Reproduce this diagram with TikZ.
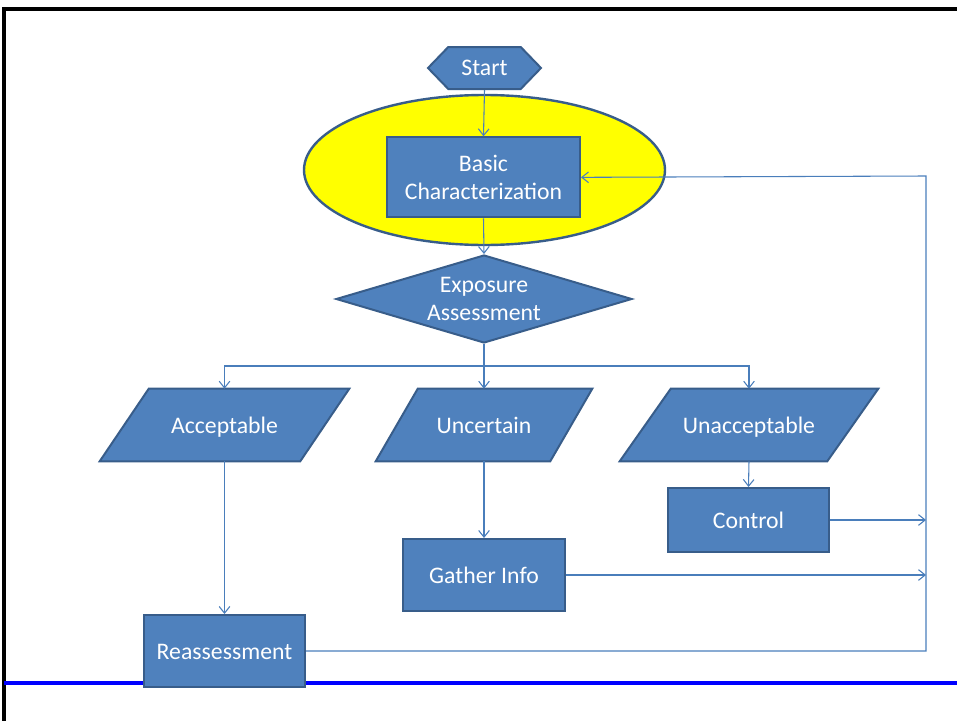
\documentclass[tikz,border=0pt]{standalone}
\usepackage{fontspec}
\setmainfont{Carlito}
\usetikzlibrary{shapes.geometric,shapes.symbols,arrows.meta,backgrounds}
\definecolor{boxfill}{HTML}{4F81BD}
\definecolor{boxline}{HTML}{385D8A}
\definecolor{conn}{HTML}{4A7EBB}
\definecolor{ellfill}{HTML}{FFFF00}
\tikzset{
  txt/.style={text=white,inner sep=0pt,font=\fontsize{17.8}{21}\selectfont,align=center},
  oneline/.style={text height=12.5pt,text depth=0pt},
  base/.style={txt,fill=boxfill,draw=boxline,line width=1.5pt},
  boxnode/.style={base,rectangle},
  para/.style={txt,oneline,rectangle,minimum height=54pt},
  paraface/.style={fill=boxfill,draw=boxline,line width=1.5pt,line join=miter},
  conn/.style={draw=conn,line width=0.8pt},
  arr/.style={conn,-{Straight Barb[length=5pt,width=8pt,line width=0.8pt]}},
}
% #1 node name, #2 half of the horizontal slant
\newcommand{\paradraw}[2]{%
  \filldraw[paraface] ([xshift=-#2]#1.south west) -- ([xshift=#2]#1.north west)
    -- ([xshift=#2]#1.north east) -- ([xshift=-#2]#1.south east) -- cycle;}
\begin{document}
\begin{tikzpicture}[x=0.75pt,y=-0.75pt]
\useasboundingbox (0,0) rectangle (957,721);
% frame
\draw[black,line width=2.4pt] (4,721) -- (4,9) -- (957,9);
\draw[blue,line width=2.4pt] (4,683) -- (957,683);
% nodes
\node[base,oneline,text height=10.5pt,shape=signal,signal to=west and east,signal pointer angle=92,
  minimum width=84.75pt,minimum height=31.5pt] (start) at (484.5,68) {Start};
\node[shape=ellipse,fill=ellfill,draw=boxline,line width=1.8pt,
  minimum width=270.75pt,minimum height=112.5pt] (ell) at (484.5,170) {};
\node[boxnode,minimum width=144.75pt,minimum height=60pt,yshift=-1pt] (basic) at (483.5,176) {Basic\\Characterization};
\node[base,shape=diamond,aspect=3.36,minimum width=222pt,minimum height=66pt] (expo) at (484,299) {Exposure\\Assessment};
\node[para,minimum width=150pt] (acc) at (224.5,425) {Acceptable};
\node[para,minimum width=130.5pt] (unc) at (484,425) {Uncertain};
\node[para,minimum width=155.25pt] (unacc) at (749,425) {Unacceptable};
\begin{scope}[on background layer]
\paradraw{acc}{18.375pt}
\paradraw{unc}{15.75pt}
\paradraw{unacc}{19.125pt}
\end{scope}
\node[boxnode,oneline,minimum width=120.75pt,minimum height=48pt] (control) at (748.5,520) {Control};
\node[boxnode,oneline,minimum width=121.5pt,minimum height=54pt] (gather) at (484,575) {Gather Info};
\node[boxnode,oneline,minimum width=120.75pt,minimum height=54pt] (reass) at (224.5,651) {Reassessment};
% coordinates
\coordinate (bar) at (484,366);
\coordinate (rbot) at (926,651);
\coordinate (rtop) at (926,176);
\coordinate (rctl) at (926,520);
\coordinate (rgat) at (926,575);
% connectors
\draw[arr] (start.south) -- (basic.north);
\draw[arr] (basic.south) -- (expo.north);
\draw[conn] (expo.south) -- (bar);
\draw[arr] (bar) -| (acc.north);
\draw[arr] (bar) -- (unc.north);
\draw[arr] (bar) -| (unacc.north);
\draw[arr] (acc.south) -- (reass.north);
\draw[arr] (unc.south) -- (gather.north);
\draw[arr] (unacc.south) -- (control.north);
\draw[arr] (control.east) -- (rctl);
\draw[arr] (gather.east) -- (rgat);
\draw[arr] (reass.east) -- (rbot) -- (rtop) -- (basic.east);
\end{tikzpicture}
\end{document}
